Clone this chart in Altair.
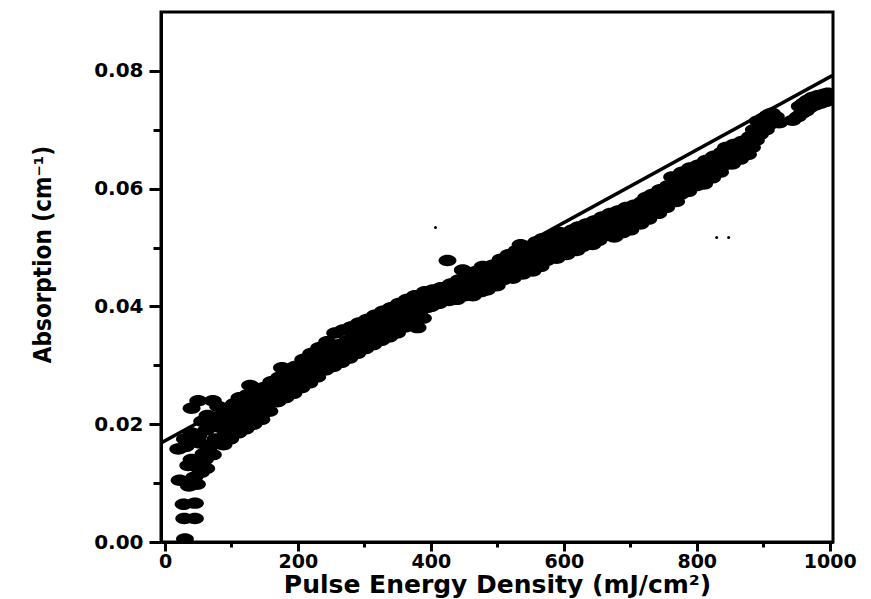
import altair as alt
import pandas as pd

x_low = [30, 29, 45, 28, 45, 22, 36, 48, 54, 20, 31, 40, 47, 62, 58, 30, 52, 66, 72, 40,
         50, 62, 76, 82, 70, 40, 50, 72, 86, 92, 96, 64, 80, 88, 94, 98, 56, 35, 44, 60]
y_low = [0.0005, 0.0040, 0.0040, 0.0064, 0.0066, 0.0105, 0.0095, 0.0098, 0.0118, 0.0158,
         0.0162, 0.0140, 0.0128, 0.0125, 0.0150, 0.0175, 0.0168, 0.0160, 0.0148, 0.0185,
         0.0180, 0.0190, 0.0175, 0.0195, 0.0205, 0.0227, 0.0240, 0.0240, 0.0212, 0.0185,
         0.0228, 0.0215, 0.0230, 0.0165, 0.0200, 0.0175, 0.0205, 0.0130, 0.0110, 0.0140]

x_100 = [102, 104, 107, 110, 112, 115, 118, 121, 124, 127, 128, 130, 133, 136, 139, 142, 145, 148,
         151, 154, 157, 160, 163, 166, 169, 172, 175, 176, 178, 181, 184, 187, 190, 193, 196, 199]
y_100 = [0.0195, 0.0235, 0.0215, 0.0185, 0.0245, 0.0205, 0.0228, 0.0192, 0.0250, 0.0214, 0.0266,
         0.0236, 0.0200, 0.0258, 0.0222, 0.0245, 0.0208, 0.0262, 0.0230, 0.0250, 0.0222, 0.0272,
         0.0238, 0.0256, 0.0238, 0.0280, 0.0245, 0.0296, 0.0265, 0.0245, 0.0290, 0.0258, 0.0272,
         0.0252, 0.0298, 0.0265]

x_200 = [202, 205, 208, 211, 214, 217, 220, 223, 226, 229, 232, 235, 238, 241, 244, 247, 250,
         253, 256, 259, 262, 265, 268, 271, 274, 277, 280, 283, 286, 289, 292, 295, 298]
y_200 = [0.0282, 0.0262, 0.0310, 0.0272, 0.0295, 0.0270, 0.0320, 0.0285, 0.0305, 0.0280, 0.0330,
         0.0292, 0.0315, 0.0292, 0.0340, 0.0305, 0.0322, 0.0298, 0.0355, 0.0315, 0.0335, 0.0305,
         0.0360, 0.0325, 0.0342, 0.0312, 0.0365, 0.0332, 0.0352, 0.0320, 0.0372, 0.0340, 0.0355]

x_300 = [301, 304, 307, 310, 313, 316, 319, 322, 325, 328, 331, 334, 337, 340, 343, 346, 349,
         352, 355, 358, 361, 364, 367, 370, 373, 376, 380, 382, 385, 388, 391, 394, 397]
y_300 = [0.0328, 0.0378, 0.0345, 0.0362, 0.0335, 0.0385, 0.0352, 0.0370, 0.0342, 0.0392, 0.0360,
         0.0378, 0.0348, 0.0398, 0.0368, 0.0385, 0.0355, 0.0405, 0.0375, 0.0392, 0.0365, 0.0412,
         0.0382, 0.0400, 0.0372, 0.0418, 0.0364, 0.0390, 0.0408, 0.0380, 0.0425, 0.0398, 0.0412]

x_400 = [400, 403, 406, 409, 412, 415, 418, 421, 425, 427, 430, 433, 436, 439, 442, 445, 448,
         451, 454, 457, 460, 463, 466, 469, 472, 475, 478, 481, 484, 487, 490, 493, 496, 499]
y_400 = [0.0400, 0.0428, 0.0410, 0.0420, 0.0405, 0.0432, 0.0412, 0.0425, 0.0478, 0.0410, 0.0438,
         0.0418, 0.0430, 0.0412, 0.0445, 0.0425, 0.0462, 0.0418, 0.0438, 0.0452, 0.0430, 0.0418,
         0.0445, 0.0460, 0.0435, 0.0425, 0.0468, 0.0448, 0.0428, 0.0455, 0.0440, 0.0470, 0.0448,
         0.0435]

x_500 = [502, 505, 508, 511, 514, 517, 520, 523, 526, 529, 532, 535, 538, 541, 544, 547, 550,
         553, 556, 559, 562, 565, 568, 571, 574, 577, 580, 583, 586, 589, 592, 595, 598]
y_500 = [0.0462, 0.0480, 0.0445, 0.0470, 0.0452, 0.0488, 0.0465, 0.0448, 0.0478, 0.0495, 0.0470,
         0.0505, 0.0455, 0.0485, 0.0468, 0.0500, 0.0478, 0.0460, 0.0492, 0.0510, 0.0482, 0.0468,
         0.0515, 0.0495, 0.0478, 0.0505, 0.0488, 0.0520, 0.0498, 0.0482, 0.0512, 0.0525, 0.0495]

x_600 = [601, 604, 607, 610, 613, 616, 619, 622, 625, 628, 631, 634, 637, 640, 643, 646, 649,
         652, 655, 658, 661, 664, 667, 670, 673, 676, 679, 682, 685, 688, 691, 694, 697]
y_600 = [0.0508, 0.0488, 0.0522, 0.0500, 0.0530, 0.0512, 0.0495, 0.0535, 0.0518, 0.0502, 0.0528,
         0.0540, 0.0510, 0.0525, 0.0505, 0.0545, 0.0530, 0.0512, 0.0538, 0.0552, 0.0520, 0.0545,
         0.0528, 0.0558, 0.0535, 0.0518, 0.0550, 0.0562, 0.0538, 0.0525, 0.0555, 0.0568, 0.0542]

x_700 = [700, 703, 706, 709, 712, 715, 718, 721, 724, 727, 730, 733, 736, 739, 742, 745, 748,
         751, 754, 757, 760, 763, 766, 769, 772, 775, 778, 781, 784, 787, 790, 793, 796, 799]
y_700 = [0.0530, 0.0560, 0.0572, 0.0545, 0.0565, 0.0540, 0.0578, 0.0555, 0.0585, 0.0548, 0.0570,
         0.0590, 0.0562, 0.0578, 0.0558, 0.0598, 0.0575, 0.0590, 0.0568, 0.0605, 0.0582, 0.0620,
         0.0595, 0.0578, 0.0612, 0.0590, 0.0628, 0.0600, 0.0615, 0.0595, 0.0635, 0.0610, 0.0625,
         0.0605]

x_800 = [802, 805, 808, 811, 814, 817, 820, 823, 826, 829, 832, 835, 838, 841, 844, 847, 850,
         853, 856, 859, 862, 865, 868, 871, 874, 877, 880, 883, 886, 889, 892, 895, 898]
y_800 = [0.0640, 0.0615, 0.0632, 0.0608, 0.0648, 0.0625, 0.0640, 0.0618, 0.0655, 0.0632, 0.0650,
         0.0628, 0.0662, 0.0640, 0.0670, 0.0648, 0.0660, 0.0642, 0.0675, 0.0655, 0.0668, 0.0650,
         0.0680, 0.0662, 0.0675, 0.0658, 0.0688, 0.0670, 0.0700, 0.0682, 0.0715, 0.0692, 0.0708]

x_900 = [901, 904, 907, 910, 913, 916, 919, 924, 944, 952, 955, 958, 961, 964, 967, 970, 974,
         978, 982, 986, 990, 994, 997, 999]
y_900 = [0.0720, 0.0700, 0.0725, 0.0710, 0.0728, 0.0712, 0.0722, 0.0712, 0.0716, 0.0722, 0.0740,
         0.0728, 0.0745, 0.0732, 0.0750, 0.0738, 0.0755, 0.0742, 0.0758, 0.0745, 0.0760, 0.0748,
         0.0762, 0.0752]

# isolated specks
speck_x = [407, 830, 848]
speck_y = [0.0534, 0.0517, 0.0517]

# linear fit drawn across the frame
fit_x = [-6, 1004]
fit_y = [0.0168, 0.0792]

x_ticks = [0, 100, 200, 300, 400, 500, 600, 700, 800, 900, 1000]
y_ticks = [0.0, 0.01, 0.02, 0.03, 0.04, 0.05, 0.06, 0.07, 0.08]

xs = x_low + x_100 + x_200 + x_300 + x_400 + x_500 + x_600 + x_700 + x_800 + x_900
ys = y_low + y_100 + y_200 + y_300 + y_400 + y_500 + y_600 + y_700 + y_800 + y_900
pts = pd.DataFrame({"x": xs, "y": ys})
specks = pd.DataFrame({"x": speck_x, "y": speck_y})
fit = pd.DataFrame({"x": fit_x, "y": fit_y})

xscale = alt.Scale(domain=[-6, 1005], nice=False, zero=False)
yscale = alt.Scale(domain=[0, 0.09], nice=False, zero=False)

ellipse = "M-1,0 A1,0.64 0 1,1 1,0 A1,0.64 0 1,1 -1,0 Z"

xaxis = alt.Axis(
    values=x_ticks,
    title="Pulse Energy Density (mJ/cm²)",
    labelExpr="datum.value % 200 == 0 ? format(datum.value, 'd') : ''",
    tickSize={"condition": {"test": "datum.value % 200 == 0", "value": 9}, "value": 5},
    labelFont="DejaVu Sans", labelFontWeight="bold", labelFontSize=19, labelColor="black",
    labelPadding=1, labelFlush=False, labelOverlap=False,
    titleFont="DejaVu Sans", titleFontWeight="bold", titleFontSize=25, titleColor="black",
    titleBaseline="alphabetic", titleY=50, titleAnchor="middle",
    domainColor="black", domainWidth=3, tickColor="black", tickWidth=3, grid=False,
)
yaxis = alt.Axis(
    values=y_ticks,
    title="Absorption (cm⁻¹)",
    labelExpr="round(datum.value * 1000) % 20 == 0 ? format(datum.value, '.2f') : ''",
    tickSize={"condition": {"test": "round(datum.value * 1000) % 20 == 0", "value": 12}, "value": 8},
    labelFont="DejaVu Sans", labelFontWeight="bold", labelFontSize=20, labelColor="black",
    labelPadding=6, labelFlush=False, labelOverlap=False,
    titleFont="DejaVu Sans Condensed, Liberation Sans Narrow, sans-serif", titleFontWeight="bold",
    titleFontSize=24, titleColor="black", titleAngle=270, titleAlign="center",
    titleBaseline="alphabetic", titleX=-111, titleY=242,
    domainColor="black", domainWidth=3, tickColor="black", tickWidth=3, grid=False,
)

points = alt.Chart(pts).mark_point(
    shape=ellipse, filled=True, color="black", opacity=1, size=320, strokeWidth=0, clip=True
).encode(
    x=alt.X("x:Q", scale=xscale, axis=xaxis),
    y=alt.Y("y:Q", scale=yscale, axis=yaxis),
)

speck_layer = alt.Chart(specks).mark_circle(color="black", opacity=1, size=9).encode(
    x=alt.X("x:Q", scale=xscale),
    y=alt.Y("y:Q", scale=yscale),
)

line = alt.Chart(fit).mark_line(color="black", strokeWidth=3.5, clip=True).encode(
    x=alt.X("x:Q", scale=xscale),
    y=alt.Y("y:Q", scale=yscale),
)

chart = alt.layer(points, speck_layer, line).properties(
    width=672, height=530,
    autosize=alt.AutoSizeParams(type="none"),
    padding={"left": 161, "top": 12, "right": 38, "bottom": 57},
    background="white",
).configure_view(stroke="black", strokeWidth=3)

chart.save("out.html", embed_options={"renderer": "svg", "actions": False})
